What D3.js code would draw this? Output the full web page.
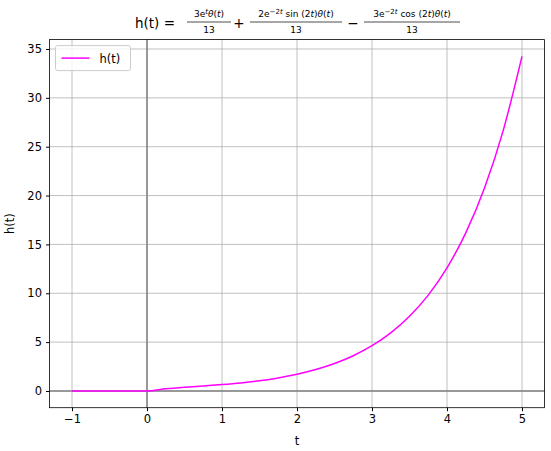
<!DOCTYPE html>
<html><head><meta charset="utf-8">
<script src="https://cdn.jsdelivr.net/npm/d3@7"></script>
<style>body{margin:0;background:#fff;font-family:"DejaVu Sans",sans-serif}</style>
</head><body><div id="chart"></div>
<script>
// samples of h(t)
let tValues = [-1, -0.5, 0, 0.25, 0.5, 0.75, 1, 1.25, 1.5, 1.75, 2, 2.25, 2.5, 2.75, 3, 3.25, 3.5, 3.75, 4, 4.25, 4.5, 4.75, 5]
let hValues = [0, 0, 0, 0.218, 0.382, 0.519, 0.659, 0.828, 1.047, 1.333, 1.706, 2.188, 2.81, 3.61, 4.635, 5.952, 7.642, 9.813, 12.6, 16.178, 20.773, 26.673, 34.249]
let xTicks = [-1, 0, 1, 2, 3, 4, 5]
let yTicks = [0, 5, 10, 15, 20, 25, 30, 35]

let margin = {top: 39.6, right: 6.5, bottom: 43.3, left: 49.5}
let width = 551 - margin.left - margin.right
let height = 451 - margin.top - margin.bottom

let root = d3.select('#chart').append('svg').attr('width', 551).attr('height', 451)
let svg = root.append('g').attr('transform', `translate(${margin.left}, ${margin.top})`)

let x = d3.scaleLinear().domain([-1.3, 5.3]).range([0, width])
let y = d3.scaleLinear().domain([-1.712, 35.961]).range([height, 0])

// grid
svg.selectAll('.gx').data(xTicks).join('line')
    .attr('x1', d => x(d)).attr('x2', d => x(d)).attr('y1', 0).attr('y2', height)
    .attr('stroke', '#b0b0b0').attr('stroke-width', 0.8)
svg.selectAll('.gy').data(yTicks).join('line')
    .attr('y1', d => y(d)).attr('y2', d => y(d)).attr('x1', 0).attr('x2', width)
    .attr('stroke', '#b0b0b0').attr('stroke-width', 0.8)

// zero lines
svg.append('line').attr('x1', x(0)).attr('x2', x(0)).attr('y1', 0).attr('y2', height)
    .attr('stroke', '#808080').attr('stroke-width', 1.5)
svg.append('line').attr('y1', y(0)).attr('y2', y(0)).attr('x1', 0).attr('x2', width)
    .attr('stroke', '#808080').attr('stroke-width', 1.5)

let pts = tValues.map((t, i) => [t, hValues[i]])
svg.append('path').datum(pts)
    .attr('fill', 'none').attr('stroke', '#ff00ff').attr('stroke-width', 1.5)
    .attr('d', d3.line().x(d => x(d[0])).y(d => y(d[1])).curve(d3.curveMonotoneX))

// axes
let xa = svg.append('g').attr('transform', `translate(0, ${height})`)
    .call(d3.axisBottom(x).tickValues(xTicks).tickSize(3.5).tickPadding(4).tickFormat(d => d < 0 ? '−' + (-d) : d))
let ya = svg.append('g')
    .call(d3.axisLeft(y).tickValues(yTicks).tickSize(3.5).tickPadding(4))
for (let a of [xa, ya]) {
    a.selectAll('text').attr('font-size', 11.5).attr('fill', '#000').attr('font-family', 'DejaVu Sans')
    a.select('.domain').remove()
}
svg.append('rect').attr('width', width).attr('height', height)
    .attr('fill', 'none').attr('stroke', '#000').attr('stroke-width', 0.8)

svg.append('text').attr('x', width / 2).attr('y', height + 37).attr('text-anchor', 'middle')
    .attr('font-size', 11.5).text('t')
svg.append('text').attr('transform', `translate(-36, ${height / 2}) rotate(-90)`)
    .attr('text-anchor', 'middle').attr('font-size', 11.5).text('h(t)')

// legend
let lg = svg.append('g').attr('transform', 'translate(6, 6)')
lg.append('rect').attr('width', 75).attr('height', 25).attr('rx', 2)
    .attr('fill', '#fff').attr('fill-opacity', 0.8).attr('stroke', '#ccc')
lg.append('line').attr('x1', 6).attr('x2', 34).attr('y1', 12.5).attr('y2', 12.5)
    .attr('stroke', '#ff00ff').attr('stroke-width', 1.5)
lg.append('text').attr('x', 44).attr('y', 17).attr('font-size', 11.5).text('h(t)')

// title
let tt = root.append('g')
tt.append('text').attr('x', 135).attr('y', 28).attr('font-size', 13.5).text('h(t) =')
function frac(cx, num, w) {
    let t = tt.append('text').attr('x', cx).attr('y', 17).attr('text-anchor', 'middle').attr('font-size', 9)
    num.forEach(p => t.append('tspan').attr('baseline-shift', p[1] ? '3' : '0').attr('font-size', p[1] ? 7 : 9)
        .attr('font-style', p[2] ? 'italic' : 'normal').text(p[0]))
    tt.append('line').attr('x1', cx - w / 2).attr('x2', cx + w / 2).attr('y1', 22).attr('y2', 22)
        .attr('stroke', '#000').attr('stroke-width', 0.7)
    tt.append('text').attr('x', cx).attr('y', 33).attr('text-anchor', 'middle').attr('font-size', 9).text('13')
}
frac(209, [['3e'], ['t', 1, 1], ['θ', 0, 1], ['('], ['t', 0, 1], [')']], 44)
tt.append('text').attr('x', 239).attr('y', 28).attr('text-anchor', 'middle').attr('font-size', 13.5).text('+')
frac(296, [['2e'], ['−2', 1], ['t', 1, 1], [' sin (2'], ['t', 0, 1], [')'], ['θ', 0, 1], ['('], ['t', 0, 1], [')']], 92)
tt.append('text').attr('x', 353).attr('y', 28).attr('text-anchor', 'middle').attr('font-size', 13.5).text('−')
frac(412, [['3e'], ['−2', 1], ['t', 1, 1], [' cos (2'], ['t', 0, 1], [')'], ['θ', 0, 1], ['('], ['t', 0, 1], [')']], 96)
</script></body></html>
